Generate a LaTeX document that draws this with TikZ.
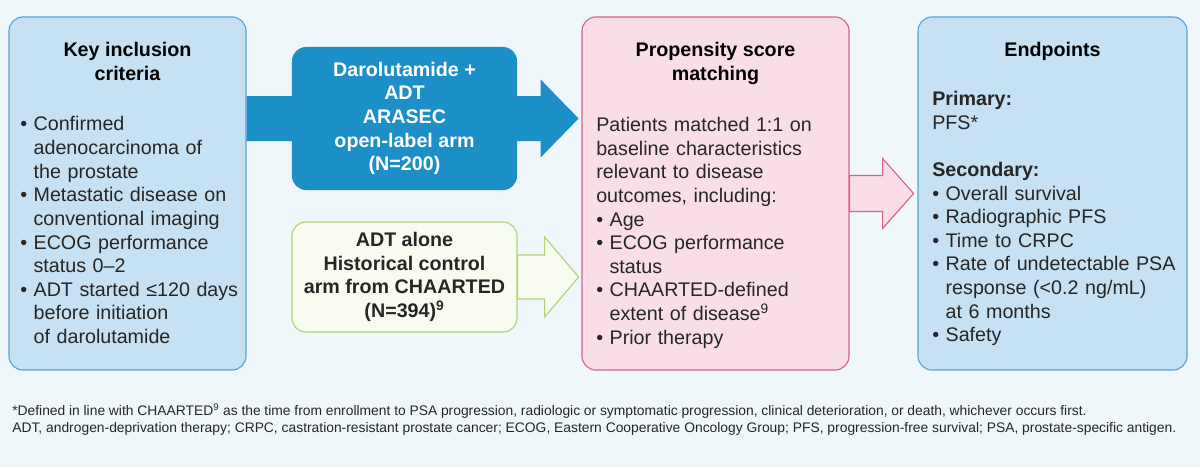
\documentclass[tikz,border=0pt]{standalone}
\usepackage{fontspec}
\setmainfont{Liberation Sans}
\usepackage{enumitem}
\definecolor{pgback}{RGB}{239,247,251}
\definecolor{pgtext}{RGB}{38,38,38}
\definecolor{critfill}{RGB}{197,225,243}
\definecolor{critline}{RGB}{84,165,214}
\definecolor{armblue}{RGB}{28,143,200}
\definecolor{ctrlfill}{RGB}{248,252,240}
\definecolor{ctrlline}{RGB}{178,210,120}
\definecolor{propfill}{RGB}{250,222,231}
\definecolor{propline}{RGB}{219,95,140}
\usetikzlibrary{positioning,calc}
\setlist[itemize]{nosep,leftmargin=9.5pt,labelsep=4.5pt,label=\textbullet}

\begin{document}
\fontsize{14}{16.8}\selectfont
\begin{tikzpicture}[x=0.025cm,y=-0.025cm,
  panelbox/.style={draw,rounded corners=10pt,line width=0.8pt,minimum height=8.825cm,inner sep=0pt},
  armbox/.style={rounded corners=10pt,minimum width=5.625cm,align=center,font=\bfseries,inner sep=0pt},
  paneltitle/.style={font=\bfseries,align=center,anchor=north,inner sep=0pt},
  paneltext/.style={anchor=north west,align=left,inner sep=0pt,text=pgtext},
  blockarrow/.style={line width=0.8pt,line join=miter}
]
  % background
  \fill[pgback] (0,0) rectangle (1200,467);
  % Panels
  \node[panelbox,fill=critfill,draw=critline,minimum width=5.925cm] (crit) at (127.5,193.5) {};
  \node[panelbox,fill=propfill,draw=propline,minimum width=6.675cm] (prop) at (715.5,193.5) {};
  \node[panelbox,fill=critfill,draw=critline,minimum width=6.725cm] (endp) at (1052.5,193.5) {};
  % Study arms
  \coordinate (armc) at (404.5,118.5);
  \fill[armblue] (crit.east |- armc) ++(0,-22.5) -- ++(294,0) -- ++(0,-16.5) -- ++(38,39)
    -- ++(-38,39) -- ++(0,-16.5) -- ++(-294,0) -- cycle;
  \node[armbox,fill=armblue,text=white,minimum height=3.575cm] (arm) at (armc)
    {Darolutamide +\\ADT\\ARASEC\\open-label arm\\(N=200)};
  \node[armbox,fill=ctrlfill,draw=ctrlline,line width=0.8pt,minimum height=2.75cm,text=pgtext] (ctrl)
    at (404.5,277) {ADT alone\\Historical control\\arm from CHAARTED\\(N=394)\textsuperscript{9}};
  \filldraw[blockarrow,fill=ctrlfill,draw=ctrlline] (ctrl.east) ++(0,-22) -- ++(27,0) -- ++(0,-18)
    -- ++(34,40) -- ++(-34,40) -- ++(0,-18) -- ++(-27,0) -- cycle;
  \filldraw[blockarrow,fill=propfill,draw=propline] (prop.east) ++(0,-18) -- ++(33,0) -- ++(0,-17)
    -- ++(31,35) -- ++(-31,35) -- ++(0,-17) -- ++(-33,0) -- cycle;
  % Panel texts
  \node[paneltitle] (crittitle) at (crit.north |- 0,42) {Key inclusion\\criteria};
  \node[paneltext,text width=5.55cm] (critlist) at (20,107) {%
    \begin{itemize}
      \item Confirmed\newline adenocarcinoma of\newline the prostate
      \item Metastatic disease on\newline conventional imaging
      \item ECOG performance\newline status 0--2
      \item ADT started ≤120 days\newline before initiation\newline of darolutamide
    \end{itemize}};
  \node[paneltitle] (proptitle) at (prop.north |- 0,42) {Propensity score\\matching};
  \node[paneltext,text width=6.2cm] (proplist) at (596,117) {%
    Patients matched 1:1 on\\baseline characteristics\\relevant to disease\\outcomes, including:
    \begin{itemize}
      \item Age
      \item ECOG performance\newline status
      \item CHAARTED-defined\newline extent of disease\textsuperscript{9}
      \item Prior therapy
    \end{itemize}};
  \node[paneltitle] (endptitle) at (endp.north |- 0,42) {Endpoints};
  \node[paneltext,text width=6.2cm] (endplist) at (932,91) {%
    \textbf{Primary:}\\PFS*\\[16.8pt]\textbf{Secondary:}
    \begin{itemize}
      \item Overall survival
      \item Radiographic PFS
      \item Time to CRPC
      \item Rate of undetectable PSA\newline response (<0.2 ng/mL)\newline at 6 months
      \item Safety
    \end{itemize}};
  % Footnote
  \node[paneltext,font=\fontsize{9.85}{12.1}\selectfont] (note) at (12,403)
    {\hbox to 764pt{*Defined in line with CHAARTED\textsuperscript{9} as the time from enrollment to PSA progression, radiologic or symptomatic progression, clinical deterioration, or death, whichever occurs first.}\\
     ADT, androgen-deprivation therapy; CRPC, castration-resistant prostate cancer; ECOG, Eastern Cooperative Oncology Group; PFS, progression-free survival; PSA, prostate-specific antigen.};
\end{tikzpicture}
\end{document}
